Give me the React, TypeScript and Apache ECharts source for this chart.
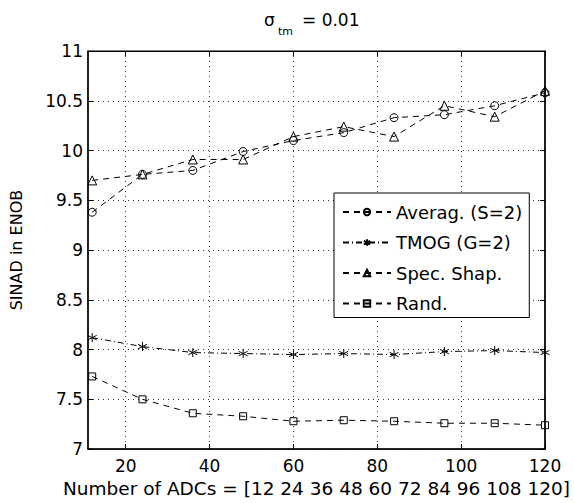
import React, { useEffect, useRef } from "react";
import * as echarts from "echarts";

const xValues = [12, 24, 36, 48, 60, 72, 84, 96, 108, 120];
const averag = [9.38, 9.76, 9.8, 9.99, 10.1, 10.18, 10.33, 10.36, 10.45, 10.58];
const tmog = [8.12, 8.03, 7.97, 7.96, 7.95, 7.96, 7.95, 7.98, 7.99, 7.97];
const spec = [9.7, 9.76, 9.91, 9.91, 10.14, 10.24, 10.14, 10.45, 10.34, 10.6];
const rand = [7.73, 7.5, 7.36, 7.33, 7.28, 7.29, 7.28, 7.26, 7.26, 7.24];
const xTicks = [20, 40, 60, 80, 100, 120];
const seriesNames = ["Averag. (S=2)", "TMOG (G=2)", "Spec. Shap.", "Rand."];

const FONT = "DejaVu Sans, Liberation Sans, Arial, sans-serif";
const STAR = "path://M0,-5L0,5M-4.33,-2.5L4.33,2.5M-4.33,2.5L4.33,-2.5";

export default function App() {
  const ref = useRef<HTMLDivElement>(null);
  useEffect(() => {
    if (!ref.current) return;
    const chart = echarts.init(ref.current, undefined, { renderer: "svg" });
    const mk = (name: string, ys: number[], symbol: string, size: number, dash: any) => ({
      name,
      type: "line",
      data: xValues.map((x, i) => [x, ys[i]]),
      symbol,
      symbolSize: size,
      showSymbol: true,
      lineStyle: { color: "#000", width: 1, type: dash },
      itemStyle: { color: "none", borderColor: "#000", borderWidth: 1 },
      emphasis: { disabled: true },
      z: 3,
    });
    chart.setOption({
      animation: false,
      textStyle: { fontFamily: FONT },
      grid: { left: 85, right: 29, top: 51, bottom: 47, show: true, borderColor: "#000", borderWidth: 1 },
      graphic: [
        { type: "text", left: 264, top: 11, style: { text: "σ", font: `17px ${FONT}`, fill: "#000" } },
        { type: "text", left: 278, top: 26, style: { text: "tm", font: `11px ${FONT}`, fill: "#000" } },
        { type: "text", left: 302, top: 11, style: { text: "= 0.01", font: `17px ${FONT}`, fill: "#000" } },
      ],
      legend: {
        orient: "vertical",
        left: 334,
        top: 193,
        width: 200,
        padding: [10, 7, 5, 8],
        itemGap: 12.5,
        itemWidth: 48,
        itemHeight: 8,
        borderColor: "#000",
        borderWidth: 1,
        backgroundColor: "#fff",
        data: seriesNames,
        textStyle: { fontSize: 18, color: "#000", fontFamily: FONT },
      },
      xAxis: [
        {
          type: "value",
          min: 11,
          max: 120,
          name: "Number of ADCs = [12 24 36 48 60 72 84 96 108 120]",
          nameLocation: "middle",
          nameGap: 25,
          nameTextStyle: { fontSize: 18.5, color: "#000", fontFamily: FONT },
          axisLine: { lineStyle: { color: "#000", width: 1.5 } },
          axisTick: { inside: true, length: 5, customValues: xTicks, lineStyle: { color: "#000" } },
          axisLabel: { customValues: xTicks, fontSize: 17, color: "#000", margin: 8, fontFamily: FONT },
          splitLine: { show: true, lineStyle: { color: "#333", type: [1, 4], width: 1 } },
        },
        {
          type: "value",
          min: 11,
          max: 120,
          position: "top",
          axisLine: { show: true, lineStyle: { color: "#000" } },
          axisTick: { inside: true, length: 5, customValues: xTicks, lineStyle: { color: "#000" } },
          axisLabel: { show: false },
          splitLine: { show: false },
        },
      ],
      yAxis: [
        {
          type: "value",
          min: 7,
          max: 11,
          interval: 0.5,
          name: "SINAD in ENOB",
          nameLocation: "middle",
          nameGap: 64,
          nameTextStyle: { fontSize: 16, color: "#000", fontFamily: FONT },
          axisLine: { show: true, lineStyle: { color: "#000", width: 1.5 } },
          axisTick: { inside: true, length: 5, lineStyle: { color: "#000" } },
          axisLabel: { fontSize: 17, color: "#000", margin: 5, fontFamily: FONT },
          splitLine: { show: true, lineStyle: { color: "#333", type: [1, 4], width: 1 } },
        },
        {
          type: "value",
          min: 7,
          max: 11,
          interval: 0.5,
          position: "right",
          axisLine: { show: true, lineStyle: { color: "#000", width: 1.5 } },
          axisTick: { inside: true, length: 5, lineStyle: { color: "#000" } },
          axisLabel: { show: false },
          splitLine: { show: false },
        },
      ],
      series: [
        mk(seriesNames[0], averag, "circle", 8, [6, 5]),
        mk(seriesNames[1], tmog, STAR, 9, [6, 3, 1, 3]),
        mk(seriesNames[2], spec, "triangle", 9, [6, 5]),
        mk(seriesNames[3], rand, "rect", 7, [6, 5]),
      ],
    });
    return () => chart.dispose();
  }, []);
  return <div ref={ref} style={{ width: 574, height: 503, position: "absolute", left: 0, top: 0 }} />;
}
